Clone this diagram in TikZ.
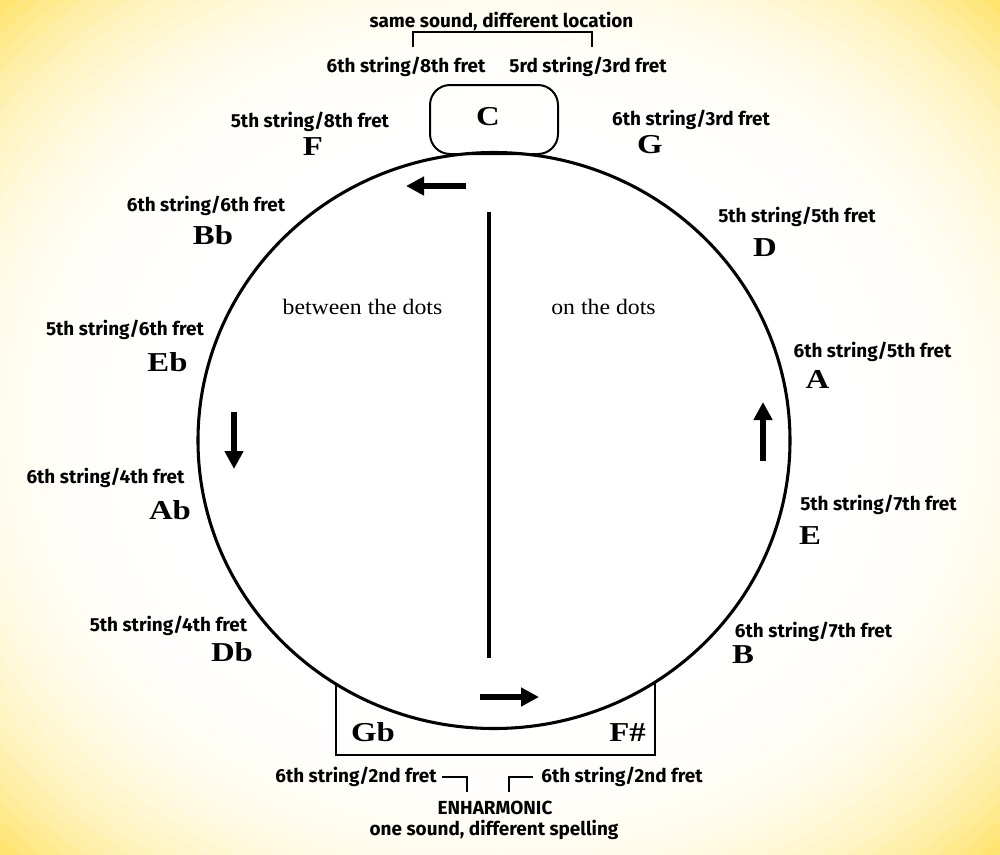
\documentclass[tikz,border=0pt]{standalone}
\usepackage{fontspec}
\setmainfont{Liberation Serif}
\newfontfamily\fretfont{Fira Sans}
\newfontfamily\notefont{Liberation Serif}[FakeStretch=1.2]
\newfontfamily\zonefont{Liberation Serif}[FakeStretch=1.08]
\usetikzlibrary{arrows.meta}

\definecolor{glowcorner}{RGB}{255,228,112}

\tikzset{every picture/.style={line width=0.75pt}}
\tikzset{
  fretlbl/.style={font=\fretfont\bfseries\fontsize{14.2}{16}\selectfont, inner sep=1pt},
  notename/.style={font=\notefont\bfseries\fontsize{20.5}{24}\selectfont, inner sep=1pt},
  zonelbl/.style={font=\zonefont\fontsize{16.5}{18}\selectfont, inner sep=1pt},
  flowarrow/.style={line width=5pt, -{Triangle[length=13.5pt,width=13.5pt]}},
  bracketline/.style={line width=1.5pt}
}

\begin{document}
\begin{tikzpicture}[x=0.75pt,y=0.75pt,yscale=-1,xscale=1]
\useasboundingbox (0,0) rectangle (1000,854);

%Background glow, white in the middle and yellow in the corners
\begin{scope}
\clip (0,0) rectangle (1000,854);
\fill[white] (0,0) rectangle (1000,854);
\foreach \k in {0,...,28}{
  \pgfmathsetmacro\r{1-0.02*\k}
  \pgfmathsetmacro\p{100*((\r-0.44)/0.56)^3}
  \fill[glowcorner!\p!white] (500,427) ellipse ({707*\r} and {604*\r});
}
\end{scope}

%Shape: Rounded box round C
\draw [line width=1.5pt, rounded corners=15pt]  (430,85) rectangle (558,154) ;
%Shape: Open box round Gb and F#
\draw [line width=1.5pt]  (336,684) -- (336,755) -- (655,755) -- (655,682) ;
%Shape: Circle
\draw [line width=2.3pt]  (494,440.5) ellipse (296 and 288) ;
%Straight Lines
\draw [line width=2.4pt]  (489,212) -- (489,658) ;

%Arrows
\draw [flowarrow]  (466,186) -- (406,186) ;
\draw [flowarrow]  (234,412) -- (234,469) ;
\draw [flowarrow]  (480,697) -- (539,697) ;
\draw [flowarrow]  (763,461) -- (763,402) ;

% Text Node
\draw (488,117) node (C) [notename] {C};
% Text Node
\draw (650,145) node (G) [notename] {G};
% Text Node
\draw (765,248) node (D) [notename] {D};
% Text Node
\draw (817.5,379) node (A) [notename] {A};
% Text Node
\draw (810,536) node (E) [notename] {E};
% Text Node
\draw (743,655) node (B) [notename] {B};
% Text Node
\draw (627.5,733) node (Fsharp) [notename] {F\#};
% Text Node
\draw (373,732) node (Gb) [notename] {Gb};
% Text Node
\draw (232,652) node (Db) [notename] {Db};
% Text Node
\draw (170,510) node (Ab) [notename] {Ab};
% Text Node
\draw (167.5,362) node (Eb) [notename] {Eb};
% Text Node
\draw (213,235) node (Bb) [notename] {Bb};
% Text Node
\draw (313,147) node (F) [notename] {F};

% Text Node
\draw (406,67) node (Cfretlow) [fretlbl] {6th string/8th fret};
% Text Node
\draw (588,67) node (Cfrethigh) [fretlbl] {5rd string/3rd fret};
% Text Node
\draw (501.5,21) node (samesound) [fretlbl] {same sound, different location};
% Text Node
\draw (691,120) node (Gfret) [fretlbl] {6th string/3rd fret};
% Text Node
\draw (797,217) node (Dfret) [fretlbl] {5th string/5th fret};
% Text Node
\draw (872.5,352) node (Afret) [fretlbl] {6th string/5th fret};
% Text Node
\draw (878.5,505) node (Efret) [fretlbl] {5th string/7th fret};
% Text Node
\draw (813.5,632) node (Bfret) [fretlbl] {6th string/7th fret};
% Text Node
\draw (622,777) node (Fsharpfret) [fretlbl] {6th string/2nd fret};
% Text Node
\draw (356,777) node (Gbfret) [fretlbl] {6th string/2nd fret};
% Text Node
\draw (495,808) node (enharm) [fretlbl] {ENHARMONIC};
% Text Node
\draw (494,830) node (spelling) [fretlbl] {one sound, different spelling};
% Text Node
\draw (168.5,626) node (Dbfret) [fretlbl] {5th string/4th fret};
% Text Node
\draw (105.5,478) node (Abfret) [fretlbl] {6th string/4th fret};
% Text Node
\draw (125,330) node (Ebfret) [fretlbl] {5th string/6th fret};
% Text Node
\draw (206,206) node (Bbfret) [fretlbl] {6th string/6th fret};
% Text Node
\draw (310,122) node (Ffret) [fretlbl] {5th string/8th fret};

% Text Node
\draw (362.5,307) node (between) [zonelbl] {between the dots};
% Text Node
\draw (603.5,307) node (ondots) [zonelbl] {on the dots};

%Brackets
\coordinate (samesoundL) at (413,47);
\coordinate (samesoundR) at (592,47);
\draw [bracketline]  (samesoundL) |- (samesound.south -| samesoundR) -- (samesoundR) ;
\coordinate (enharmL) at (467,792);
\coordinate (enharmR) at (509,792);
\draw [bracketline]  ([xshift=3]Gbfret.east) -| (enharmL) ;
\draw [bracketline]  ([xshift=-5]Fsharpfret.west) -| (enharmR) ;

\end{tikzpicture}
\end{document}
